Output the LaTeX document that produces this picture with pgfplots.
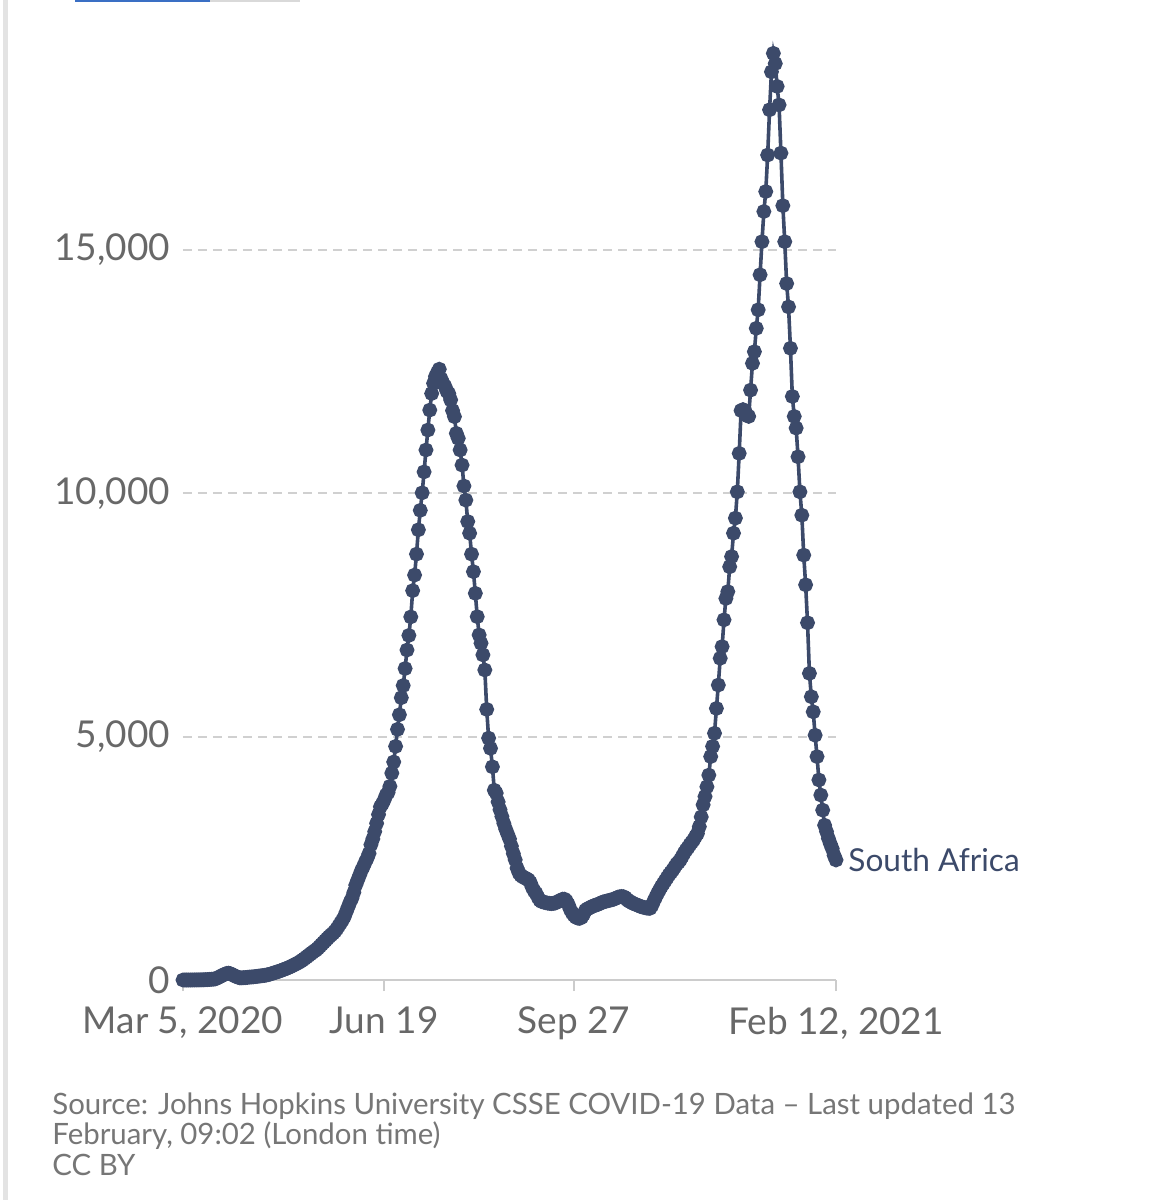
\documentclass[border=0pt]{standalone}
\usepackage{pgfplots}
\usepackage{pgfplotstable}
\pgfplotsset{compat=1.18}
\usepackage{fontspec}
\setmainfont{Lato}
\definecolor{linec}{RGB}{60,74,106}
\definecolor{labgray}{RGB}{104,104,104}
\definecolor{notegray}{RGB}{118,118,118}
\definecolor{gridc}{RGB}{208,208,208}
\definecolor{axisc}{RGB}{204,204,204}
\definecolor{topblue}{RGB}{58,111,196}
\pgfplotstableread{
d v
0 0
1 0
2 0
3 0
4 0
5 1
6 1
7 2
8 2
9 3
10 4
11 5
12 7
13 9
14 12
15 15
16 18
17 22
18 40
19 60
20 80
21 100
22 120
23 135
24 140
25 130
26 110
27 90
28 70
29 55
30 45
31 45
32 48
33 50
34 55
35 60
36 62
37 65
38 70
39 75
40 80
41 85
42 90
43 95
44 103
45 112
46 122
47 135
48 148
49 160
50 172
51 185
52 200
53 215
54 230
55 245
56 262
57 280
58 300
59 320
60 340
61 360
62 385
63 411
64 440
65 470
66 500
67 530
68 560
69 590
70 616
71 650
72 690
73 730
74 770
75 810
76 850
77 890
78 925
79 959
80 1000
81 1050
82 1110
83 1170
84 1230
85 1300
86 1400
87 1500
88 1600
89 1680
90 1800
91 1950
92 2050
93 2150
94 2250
95 2330
96 2420
97 2500
98 2600
99 2780
100 2900
101 3050
102 3220
103 3400
104 3560
105 3620
106 3700
107 3800
108 3850
109 3980
110 4250
111 4480
112 4800
113 5150
114 5450
115 5800
116 6050
117 6400
118 6780
119 7080
120 7460
121 8000
122 8320
123 8750
124 9250
125 9650
126 10010
127 10440
128 10890
129 11300
130 11710
131 12050
132 12260
133 12400
134 12480
135 12550
136 12350
137 12260
138 12200
139 12100
140 12050
141 11920
142 11700
143 11575
144 11232
145 11130
146 10890
147 10580
148 10150
149 9860
150 9420
151 9180
152 8750
153 8390
154 7945
155 7465
156 7090
157 6920
158 6680
159 6370
160 5560
161 4970
162 4760
163 4380
164 3900
165 3840
166 3660
167 3500
168 3360
169 3220
170 3100
171 3000
172 2900
173 2750
174 2600
175 2470
176 2300
177 2200
178 2150
179 2120
180 2100
181 2080
182 2055
183 2000
184 1900
185 1830
186 1780
187 1700
188 1640
189 1610
190 1600
191 1590
192 1580
193 1575
194 1570
195 1575
196 1580
197 1600
198 1620
199 1640
200 1660
201 1660
202 1620
203 1550
204 1450
205 1380
206 1330
207 1290
208 1270
209 1267
210 1290
211 1350
212 1430
213 1460
214 1480
215 1500
216 1520
217 1535
218 1545
219 1560
220 1580
221 1600
222 1610
223 1620
224 1630
225 1640
226 1650
227 1660
228 1680
229 1700
230 1710
231 1715
232 1712
233 1690
234 1650
235 1620
236 1600
237 1575
238 1560
239 1545
240 1530
241 1510
242 1500
243 1490
244 1480
245 1475
246 1473
247 1530
248 1620
249 1700
250 1780
251 1850
252 1920
253 1980
254 2040
255 2100
256 2160
257 2210
258 2260
259 2320
260 2380
261 2420
262 2470
263 2540
264 2610
265 2670
266 2720
267 2780
268 2830
269 2880
270 2950
271 3010
272 3150
273 3350
274 3600
275 3770
276 3970
277 4210
278 4590
279 4800
280 5070
281 5580
282 6060
283 6610
284 6850
285 7400
286 7840
287 7980
288 8490
289 8700
290 9180
291 9490
292 10030
293 10820
294 11700
295 11720
296 11700
297 11600
298 11580
299 12120
300 12670
301 12910
302 13390
303 13770
304 14490
305 15170
306 15790
307 16200
308 16950
309 17880
310 18660
311 19040
312 18830
313 18360
314 17980
315 16990
316 15910
317 15170
318 14310
319 13830
320 12980
321 11990
322 11580
323 11340
324 10750
325 10030
326 9550
327 8730
328 8120
329 7340
330 6300
331 5820
332 5510
333 5030
334 4590
335 4110
336 3800
337 3490
338 3180
339 3050
340 2910
341 2800
342 2700
343 2560
344 2466
}\sadata
\begin{document}
\begin{tikzpicture}
\useasboundingbox (0,0) rectangle (577.5pt,600pt);
% screenshot frame fragments
\fill[gray!22] (1.5pt,0) rectangle (3.8pt,600pt);
\fill[topblue] (37.5pt,599pt) rectangle (105pt,600pt);
\fill[gray!30] (105pt,599.2pt) rectangle (150pt,600pt);
\begin{axis}[
  at={(91.5pt,110pt)}, anchor=south west,
  scale only axis, width=326.5pt, height=486.7pt,
  xmin=0, xmax=344, ymin=0, ymax=20000,
  axis x line*=bottom, axis y line*=left,
  x axis line style={draw=axisc, line width=1pt, -},
  y axis line style={draw=none},
  xtick={0,106,206,344},
  xticklabels={{Mar 5, 2020},{Jun 19},{Sep 27},{Feb 12, 2021}},
  ytick={0,5000,10000,15000},
  scaled y ticks=false,
  /pgf/number format/.cd, 1000 sep={,}, assume math mode=true, /pgfplots/.cd,
  tick align=outside,
  major tick length=5.5pt,
  xtick style={draw=axisc, line width=1pt},
  ytick style={draw=none},
  ymajorgrids,
  grid style={draw=gridc, line width=0.9pt, dash pattern=on 4.5pt off 3pt},
  tick label style={font=\fontsize{18.5}{20}\selectfont, text=labgray},
  xticklabel style={anchor=north, yshift=-4.5pt},
  yticklabel style={anchor=east, xshift=2.5pt},
  clip=false,
]
\addplot[color=linec, line width=1.8pt, mark=*, mark size=2.8pt,
  mark options={solid, fill=linec, draw=none}]
  table[x=d, y=v] {\sadata};
\node[anchor=base west, inner sep=0pt, xshift=6pt, yshift=-6pt,
  font=\fontsize{15.8}{18}\selectfont, text=linec] at (axis cs:344,2466) {South Africa};
\end{axis}
\node[anchor=base west, inner sep=0pt, font=\fontsize{14.7}{15}\selectfont, text=notegray]
  at (26pt,42.5pt) {Source: Johns Hopkins University CSSE COVID-19 Data – Last updated 13};
\node[anchor=base west, inner sep=0pt, font=\fontsize{14.7}{15}\selectfont, text=notegray]
  at (26pt,27.5pt) {February, 09:02 (London time)};
\node[anchor=base west, inner sep=0pt, font=\fontsize{14.7}{15}\selectfont, text=notegray]
  at (26pt,12.5pt) {CC BY};
\end{tikzpicture}
\end{document}
